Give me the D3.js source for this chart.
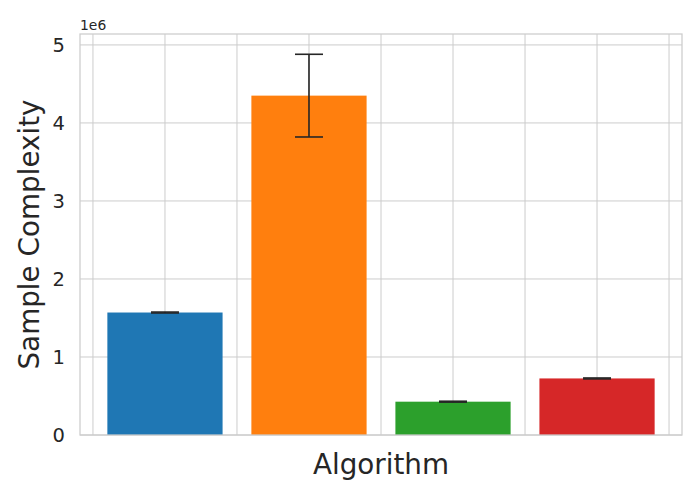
<!DOCTYPE html>
<html><head><meta charset="utf-8">
<script src="https://cdn.jsdelivr.net/npm/d3@7"></script>
<style>body{margin:0;background:#fff;}svg{display:block;font-family:"DejaVu Sans",sans-serif;}</style>
</head><body>
<svg id="c" width="700" height="500"></svg>
<script>
const categories = ["A", "B", "C", "D"];
const values = [1.57e6, 4.35e6, 0.427e6, 0.725e6];
const errors = [0.006e6, 0.53e6, 0.006e6, 0.006e6];
const colors = ["#1f77b4", "#ff7f0e", "#2ca02c", "#d62728"];
const yTicks = [0, 1e6, 2e6, 3e6, 4e6, 5e6];
const xGrid = [-0.5, 0, 0.5, 1, 1.5, 2, 2.5, 3, 3.5];

const svg = d3.select("#c");
const L = 80, R = 682, T = 34, B = 435;
const x = d3.scaleLinear().domain([-0.59, 3.59]).range([L, R]);
const y = d3.scaleLinear().domain([0, 5.14e6]).range([B, T]);
const grid = "#cccccc", ink = "#262626";

const g = svg.append("g");
g.selectAll(".hg").data(yTicks).join("line")
  .attr("x1", L).attr("x2", R).attr("y1", d => y(d)).attr("y2", d => y(d))
  .attr("stroke", grid).attr("stroke-width", 1);
g.selectAll(".vg").data(xGrid).join("line")
  .attr("y1", T).attr("y2", B).attr("x1", d => x(d)).attr("x2", d => x(d))
  .attr("stroke", grid).attr("stroke-width", 1);

const bw = x(0.8) - x(0);
g.selectAll(".bar").data(values).join("rect")
  .attr("x", (d, i) => x(i) - bw / 2).attr("width", bw)
  .attr("y", d => y(d)).attr("height", d => y(0) - y(d))
  .attr("fill", (d, i) => colors[i]);

const cap = 14;
const eg = g.selectAll(".err").data(values).join("g");
eg.append("line").attr("x1", (d, i) => x(i)).attr("x2", (d, i) => x(i))
  .attr("y1", (d, i) => y(d + errors[i])).attr("y2", (d, i) => y(d - errors[i]))
  .attr("stroke", ink).attr("stroke-width", 1.6);
eg.append("line").attr("x1", (d, i) => x(i) - cap).attr("x2", (d, i) => x(i) + cap)
  .attr("y1", (d, i) => y(d + errors[i])).attr("y2", (d, i) => y(d + errors[i]))
  .attr("stroke", ink).attr("stroke-width", 1.6);
eg.append("line").attr("x1", (d, i) => x(i) - cap).attr("x2", (d, i) => x(i) + cap)
  .attr("y1", (d, i) => y(d - errors[i])).attr("y2", (d, i) => y(d - errors[i]))
  .attr("stroke", ink).attr("stroke-width", 1.6);

g.append("rect").attr("x", L).attr("y", T).attr("width", R - L).attr("height", B - T)
  .attr("fill", "none").attr("stroke", grid).attr("stroke-width", 1.25);

const yAxis = d3.axisLeft(y).tickValues(yTicks).tickFormat(d => d / 1e6).tickSize(0).tickPadding(15);
const ya = svg.append("g").attr("transform", `translate(${L},0)`).call(yAxis);
ya.select(".domain").remove();
ya.selectAll("text").attr("fill", ink).style("font-size", "19.5px").attr("font-family", "DejaVu Sans");

svg.append("text").attr("x", L).attr("y", 30).text("1e6")
  .attr("fill", ink).style("font-size", "13.9px");
svg.append("text").attr("transform", `translate(39,${(T + B) / 2}) rotate(-90)`)
  .attr("text-anchor", "middle").text("Sample Complexity")
  .attr("fill", ink).style("font-size", "27.8px");
svg.append("text").attr("x", (L + R) / 2).attr("y", 474).attr("text-anchor", "middle")
  .text("Algorithm").attr("fill", ink).style("font-size", "27.8px");
</script>
</body></html>
